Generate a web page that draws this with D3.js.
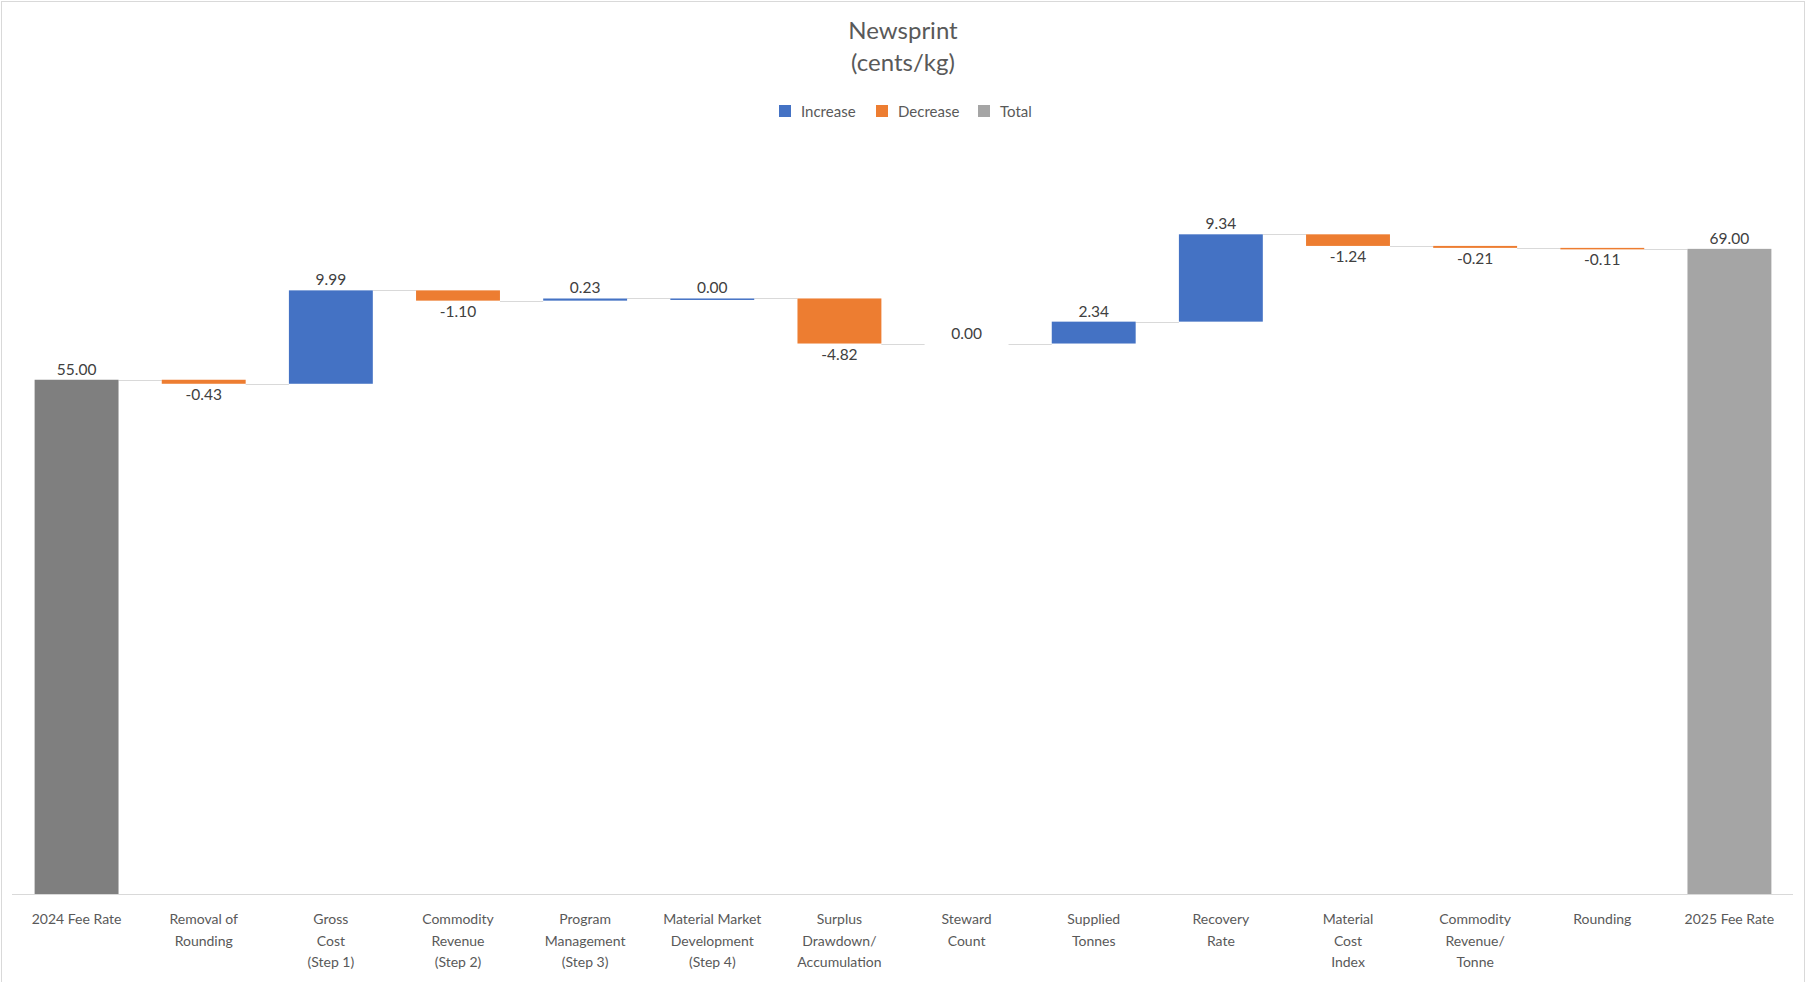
<!DOCTYPE html>
<html>
<head>
<meta charset="utf-8">
<script src="https://cdn.jsdelivr.net/npm/d3@7"></script>
<style>
  html, body { margin: 0; padding: 0; background: #fff; }
  svg { display: block; }
</style>
</head>
<body>
<div id="chart"></div>
<script>
// Newsprint fee rate bridge, 2024 -> 2025 (cents/kg)
const categories = [
  ['2024 Fee Rate'],
  ['Removal of', 'Rounding'],
  ['Gross', 'Cost', '(Step 1)'],
  ['Commodity', 'Revenue', '(Step 2)'],
  ['Program', 'Management', '(Step 3)'],
  ['Material Market', 'Development', '(Step 4)'],
  ['Surplus', 'Drawdown/', 'Accumulation'],
  ['Steward', 'Count'],
  ['Supplied', 'Tonnes'],
  ['Recovery', 'Rate'],
  ['Material', 'Cost', 'Index'],
  ['Commodity', 'Revenue/', 'Tonne'],
  ['Rounding'],
  ['2025 Fee Rate']
];
// Material Market Development is a tiny positive step (shows as 0.00 but draws a hairline)
const values = [55.00, -0.43, 9.99, -1.10, 0.23, 0.004, -4.82, 0.00, 2.34, 9.34, -1.24, -0.21, -0.11, 69.00];
const isTotal = [true, false, false, false, false, false, false, false, false, false, false, false, false, true];
const legendItems = ['Increase', 'Decrease', 'Total'];
const yDomain = [0, 80];

const W = 1806, H = 982;
const BLUE = '#4472C4', ORANGE = '#ED7D31', GREY = '#A5A5A5', DARK_GREY = '#7F7F7F';
const TEXT = '#595959', LABEL = '#404040', RULE = '#D9D9D9';
const FONT = "Lato, 'Open Sans', sans-serif";

// running start/end for every step of the waterfall
let level = 0;
const steps = values.map((v, i) => {
  let start, end, kind;
  if (isTotal[i]) { start = 0; end = v; level = v; kind = 'Total'; }
  else { start = level; end = level + v; level = end; kind = v >= 0 ? 'Increase' : 'Decrease'; }
  return { i, v, start, end, kind, key: categories[i].join(' ') };
});

const svg = d3.select('#chart').append('svg')
  .attr('width', W).attr('height', H);

// chart frame
svg.append('rect')
  .attr('x', 1.5).attr('y', 1.5)
  .attr('width', W - 3).attr('height', H + 10)
  .attr('fill', 'none').attr('stroke', RULE);

const x = d3.scaleBand()
  .domain(steps.map(d => d.key))
  .range([13, 1793])
  .paddingInner(0.34)
  .paddingOuter(0.17);

const y = d3.scaleLinear().domain(yDomain).range([894, 146]);

// title
svg.append('text')
  .attr('x', W / 2).attr('y', 39)
  .attr('text-anchor', 'middle')
  .style('font-family', FONT).style('font-size', '24px').style('fill', TEXT)
  .selectAll('tspan')
  .data(['Newsprint', '(cents/kg)'])
  .join('tspan')
  .attr('x', W / 2)
  .attr('dy', (d, i) => i === 0 ? 0 : 32)
  .text(d => d);

// legend
const legendColor = { Increase: BLUE, Decrease: ORANGE, Total: GREY };
const legendX = [779, 876, 978];
const legend = svg.append('g');
legendItems.forEach((name, i) => {
  legend.append('rect')
    .attr('x', legendX[i]).attr('y', 105)
    .attr('width', 12).attr('height', 12)
    .attr('fill', legendColor[name]);
  legend.append('text')
    .attr('x', legendX[i] + 22).attr('y', 116.5)
    .style('font-family', FONT).style('font-size', '15px').style('fill', TEXT)
    .text(name);
});

// x axis line
svg.append('line')
  .attr('x1', 12).attr('x2', 1793)
  .attr('y1', y(0) + 0.5).attr('y2', y(0) + 0.5)
  .attr('stroke', RULE).attr('stroke-width', 1);

// connectors
svg.selectAll('.connector')
  .data(steps.slice(0, -1))
  .join('line')
  .attr('class', 'connector')
  .attr('x1', d => x(d.key) + x.bandwidth())
  .attr('x2', d => x(steps[d.i + 1].key))
  .attr('y1', d => Math.round(y(d.end)) + 0.5)
  .attr('y2', d => Math.round(y(d.end)) + 0.5)
  .attr('stroke', RULE).attr('stroke-width', 1);

// bars (a step of exactly zero draws nothing)
svg.selectAll('.bar')
  .data(steps.filter(d => d.v !== 0))
  .join('rect')
  .attr('class', 'bar')
  .attr('x', d => x(d.key))
  .attr('width', x.bandwidth())
  .attr('y', d => y(Math.max(d.start, d.end)))
  .attr('height', d => Math.max(1.5, Math.abs(y(d.start) - y(d.end))))
  .attr('fill', d => d.i === 0 ? DARK_GREY : legendColor[d.kind]);

// value labels: above for increases/totals, below for decreases
svg.selectAll('.value')
  .data(steps)
  .join('text')
  .attr('class', 'value')
  .attr('x', d => x(d.key) + x.bandwidth() / 2)
  .attr('y', d => d.kind === 'Decrease'
    ? y(Math.min(d.start, d.end)) + 16
    : y(Math.max(d.start, d.end)) - 5)
  .attr('text-anchor', 'middle')
  .style('font-family', FONT).style('font-size', '15.5px').style('fill', LABEL)
  .text(d => d.v.toFixed(2));

// category labels
svg.selectAll('.cat')
  .data(steps)
  .join('text')
  .attr('class', 'cat')
  .attr('text-anchor', 'middle')
  .attr('y', 924)
  .style('font-family', FONT).style('font-size', '14px').style('fill', TEXT)
  .selectAll('tspan')
  .data(d => categories[d.i].map(t => ({ t, cx: x(d.key) + x.bandwidth() / 2 })))
  .join('tspan')
  .attr('x', d => d.cx)
  .attr('dy', (d, i) => i === 0 ? 0 : 21.5)
  .text(d => d.t);
</script>
</body>
</html>
